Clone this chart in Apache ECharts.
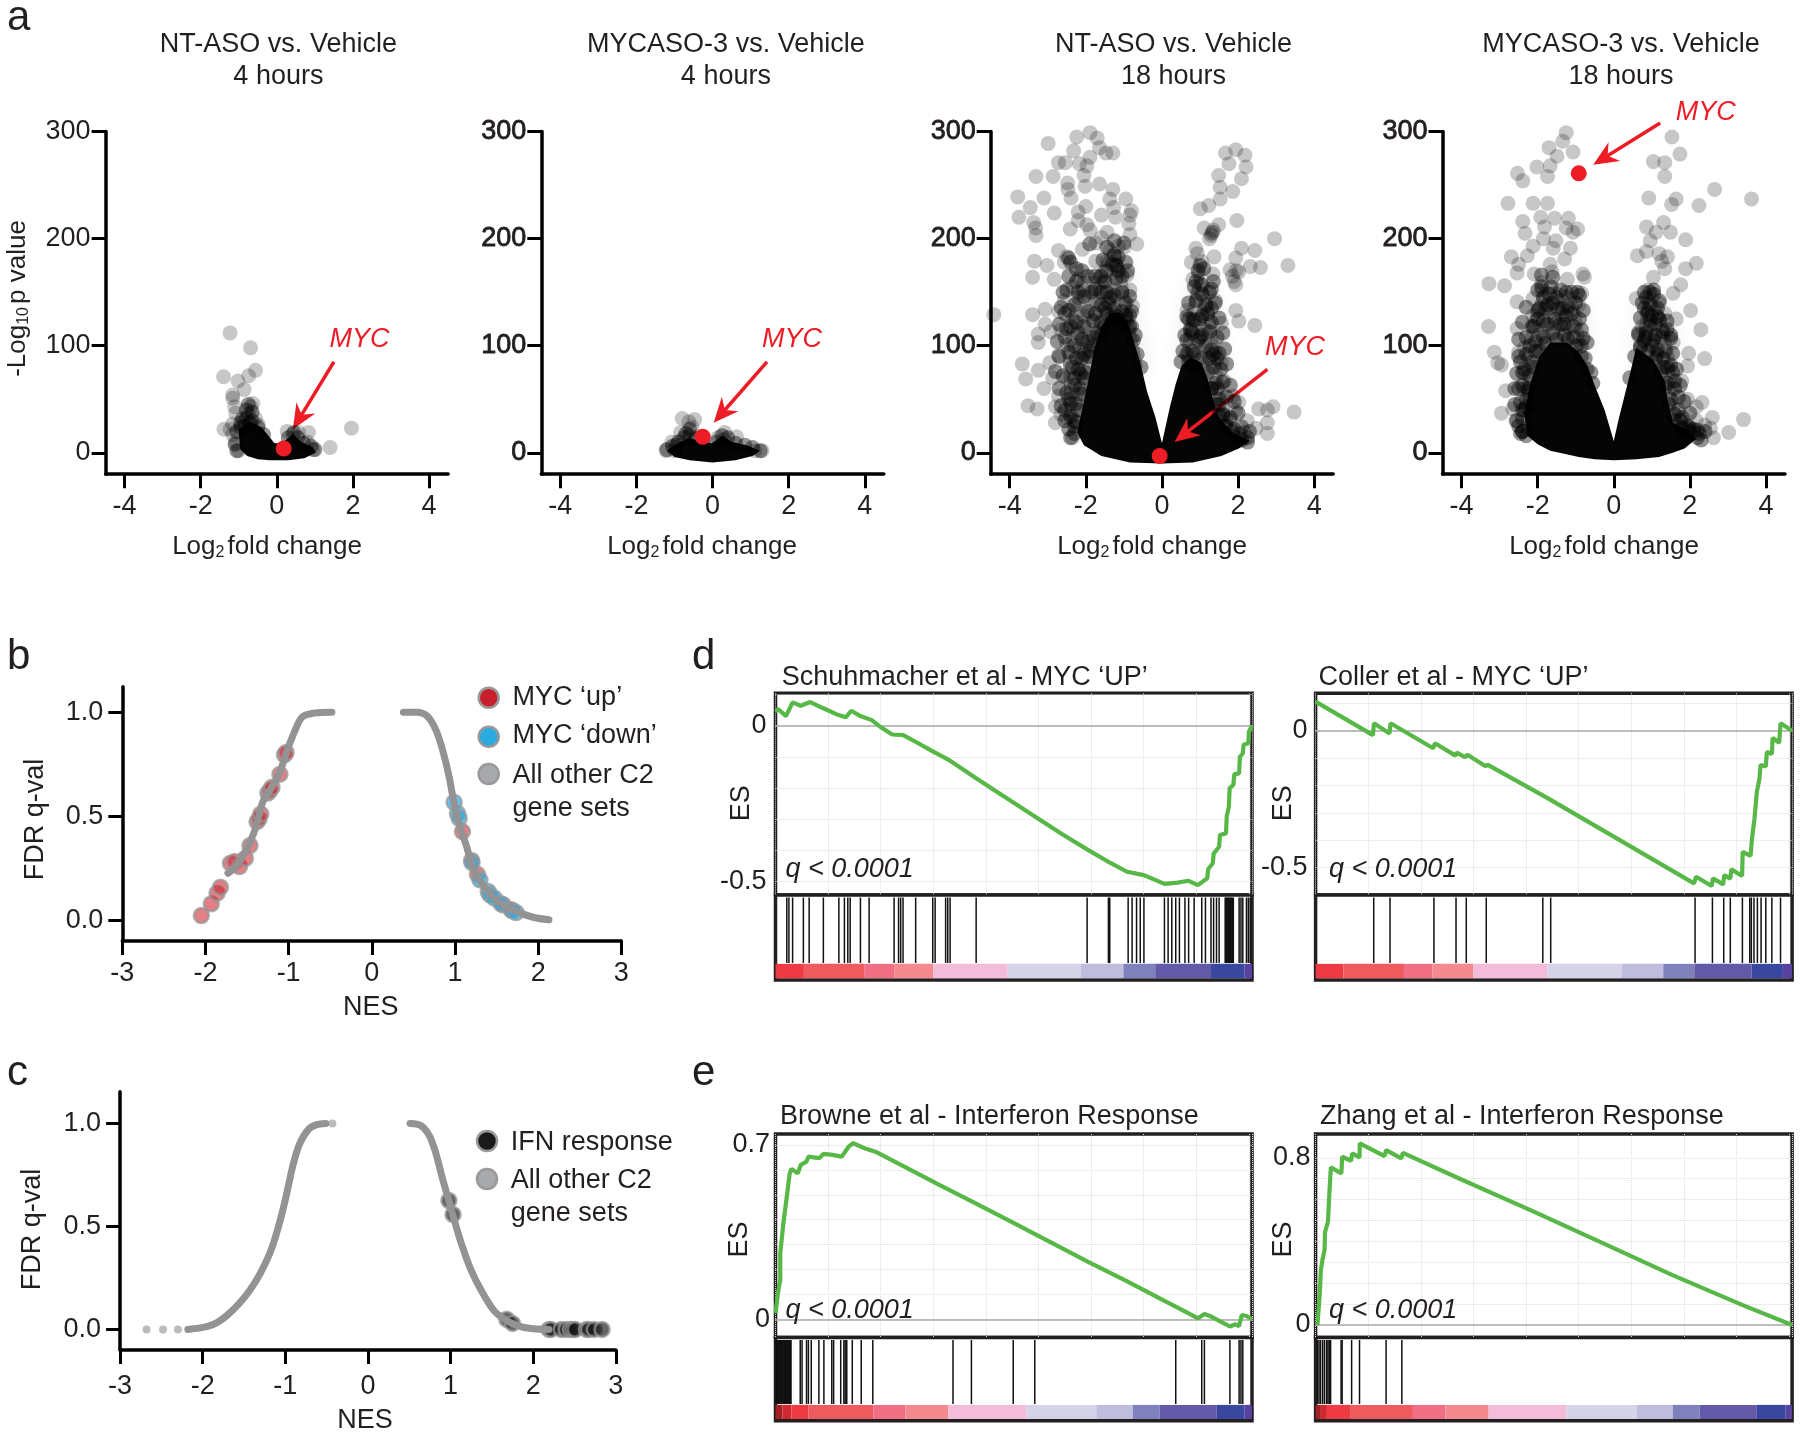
<!DOCTYPE html>
<html>
<head>
<meta charset="utf-8">
<title>Volcano, NES and GSEA panels</title>
<script src="https://cdn.jsdelivr.net/npm/echarts@6/dist/echarts.min.js"></script>
<style>
  html, body { margin: 0; padding: 0; background: #fff; }
  #main { width: 1800px; height: 1433px; }
</style>
</head>
<body>
<div id="main"></div>
<script>
// tick labels
const volcanoXTicks = [-4, -2, 0, 2, 4]
const volcanoYTicks = [0, 100, 200, 300]
const nesXTicks = [-3, -2, -1, 0, 1, 2, 3]
const fdrYTicks = [0, 0.5, 1]

// panel a: scattered genes as [log2fc, -log10p]
const a1Points = [[-1.23,112],[-.69,98],[-.56,77],[-.74,72],[-1.4,71],[-1.02,67],[-.86,59],[-1.16,54],[-1.16,51],[-.63,46],[-.68,43],[-1.11,43],[-1.08,37],[-.75,36],[-.56,32],[-1.16,27],[-1.39,22],[-1.23,22],[-.48,26],[.27,20],[.57,19],[.83,19],[1.96,23],[1.4,5],[.42,17],[.95,3],[.8,10],[-1.08,10],[-1,2],[-1.16,17]]
// overlapping dark clumps
const a1Dense = [[-.9,32],[-.8,40],[-.95,28],[-.7,28],[-1.05,20],[-.95,24],[-.8,32],[-.65,30],[-.5,24],[-.35,17],[-.75,45],[-.65,38],[-.85,25],[.3,14],[.45,19],[.55,14],[.7,9],[.9,6],[1,3],[-1.1,8],[-1.05,2]]
const a1Mass = [[-1.01,22],[-.71,29],[-.41,24],[-.06,9],[.12,9],[.42,17],[.65,10],[.95,5],[1.02,0],[.72,-5],[.3,-7],[-.18,-7],[-.5,-6],[-.78,-3],[-.96,3]]
const a2Points = [[-.8,32],[-.47,31],[-.62,29],[-.54,24],[-.84,19],[.32,19],[.63,15],[-1.22,2],[-.99,2],[1.3,2],[1.11,2],[-1.07,10],[.14,14],[.3,12]]
const a2Dense = [[-.6,22],[-.7,18],[-.95,7],[-1.2,3],[-1.05,6],[-.9,10],[-.75,14],[-.6,16],[-.45,13],[-.25,10],[.1,10],[.25,16],[.4,14],[.6,9],[.85,7],[1.05,5],[1.25,2]]
const a2Mass = [[-1.2,2],[-.92,9],[-.62,14],[-.29,10],[-.02,9],[.26,16],[.51,10],[.89,7],[1.25,2],[1.05,-3],[.6,-7],[0,-9],[-.6,-7],[-1,-4]]
const a3Points = [[-1.89,299],[-2.24,295],[-1.7,294],[-2.99,289],[-1.64,285],[-2.32,282],[-1.47,280],[-1.29,280],[-1.89,276],[-2.72,271],[-2.54,271],[-2.17,270],[-1.97,268],[-2.86,258],[-3.31,258],[-2.05,259],[-2.48,252],[-1.64,251],[-2.02,249],[-2.47,246],[-1.29,246],[-2.39,238],[-3.79,239],[-3.1,238],[-.95,237],[-1.37,237],[-3.46,229],[-2,230],[-1.27,229],[-.8,226],[-2.83,224],[-3.76,220],[-2.2,225],[-1.59,222],[-1.22,220],[-.84,222],[-3.37,215],[-2.2,217],[-1.97,213],[-.87,214],[-2.41,209],[-3.32,210],[-3.31,203],[-1.89,208],[-1.44,206],[-1.59,201],[-.84,204],[-1.74,196],[-.66,195],[-1.14,193],[-1.37,189],[-2.09,190],[-2.72,189],[-.99,192],[-2.5,183],[-2.57,178],[-3.35,179],[-3.02,175],[-1.44,179],[-1.74,179],[-1.22,176],[-.92,166],[-3.4,164],[-2.83,162],[-2.2,162],[-1.59,159],[-2.35,155],[-2.05,152],[-1.22,152],[-.84,152],[-4.42,129],[-3.07,134],[-3.4,129],[-2.57,142],[-2.72,132],[-2.2,145],[-1.74,142],[-.77,137],[-.92,125],[-3.07,120],[-3.25,111],[-2.92,113],[-3.25,103],[-2.65,115],[-2.35,125],[-2.05,128],[-2.5,101],[-2.72,91],[-2.17,98],[-3.67,83],[-3.58,69],[-3.25,77],[-2.95,84],[-2.87,70],[-3.1,60],[-3.52,44],[-3.28,41],[-2.72,53],[-2.5,70],[-2.42,84],[-2.8,43],[-2.8,28],[-2.65,36],[-2.35,57],[-2.35,14],[-2.5,33],
  [1.67,280],[1.94,283],[2.18,278],[1.76,270],[2.21,267],[1.49,259],[2.09,256],[1.53,248],[1.86,244],[1.53,237],[1.23,231],[1.01,228],[1.97,217],[1.49,213],[1.11,210],[1.34,206],[1.29,203],[2.96,200],[2.09,191],[2.44,189],[.89,191],[.93,186],[1.37,183],[1.94,182],[2.32,174],[2.59,173],[3.31,175],[.77,178],[1.04,179],[1.34,167],[.96,167],[1.79,171],[2.02,169],[1.94,157],[.81,162],[.93,149],[1.41,142],[1.11,135],[1.94,133],[.66,133],[2.02,123],[1.56,121],[2.44,119],[.81,125],[.74,115],[1.11,115],[1.41,94],[1.56,84],[1.64,67],[1.86,53],[2.02,47],[2.54,41],[2.92,43],[2.77,40],[3.47,38],[2.77,18],[2.77,28],[2.24,30],[1.79,31],[1.94,40],[2.17,19],[2.47,23],[1.85,165],[1.9,160],[1.95,170],[1.3,205],[1.35,208],[1.25,200]]
const a3Dense = [[-1.2,128],[-1.1,124],[-1.3,126],[-1,118],[-1.5,118],[-1.6,110],[-1.8,108],[-1.9,95],[-2.1,88],[-2.2,78],[-2.3,70],[-2.05,70],[-2.15,60],[-2.4,46],[-2.55,40],[-2.3,30],[-2.45,22],[-1.35,145],[-1.05,150],[-.95,140],[-.85,128],[-.8,118],[-.7,110],[-1.6,150],[-1.85,150],[-1.95,165],[-2.1,170],[-2.25,172],[-2.4,178],[-2.45,165],[-2.6,150],[-2.55,130],[-2.4,118],[-2.2,112],[-1.75,130],[-1.5,135],[-1.15,170],[-1.05,165],[-1.25,185],[-1.2,175],[-1.45,170],[-1.6,165],[-1.75,165],
  [-2.3,25],[-2.2,40],[-2.12,55],[-2,75],[-1.9,90],[-1.8,100],[-1.7,112],[-1.6,122],[-1.45,130],[-1.25,134],[-1.05,132],[-.95,128],[-.85,118],[-.75,105],[-.65,92],[-.55,80],
  [-1.9,195],[-1.45,192],[-1.25,198],[-1,196],[-2.45,182],[-1.55,180],[-1.3,176],[-1.15,183],[-.95,178],[-2.25,160],[-1.5,160],[-1.2,163],[-.9,170],[-2.5,152],[-2.2,150],[-2.05,146],[-1.75,153],[-1.45,150],[-1.25,147],[-.85,146],[-2.65,136],[-2.45,133],[-2.3,138],[-1.95,132],[-1.6,138],[-1.4,140],[-.8,132],[-2.7,120],[-2.5,116],[-2.25,122],[-2.05,118],[-1.8,123],[-2.75,104],[-2.55,108],[-2.3,100],[-2.1,106],[-1.95,104],[-2.7,90],[-2.45,94],[-2.25,88],[-2.05,92],[-2.8,76],[-2.6,72],[-2.35,80],[-2.15,74],[-2.7,60],[-2.5,56],[-2.3,63],[-2.65,44],[-2.45,50],[-2.25,46],[-2.55,30],[-2.4,34],[-2.25,28],[-2.4,14],[-2.3,18],
  [.7,85],[.8,95],[.65,105],[.75,115],[.7,125],[.95,105],[1.05,110],[1.15,100],[1.25,88],[1.35,92],[1.45,88],[.85,80],[1,125],[1.2,130],[1.3,135],[1.25,150],[1.35,160],[1.05,148],[.9,160],[1,175],[1.3,60],[1.45,60],[1.5,45],[1.6,35],[1.7,25],[1.9,15],[2.1,12],[2.25,10],
  [.5,85],[.65,92],[.85,92],[1.05,88],[1.2,75],[1.3,60],[1.4,45],[1.5,35],[1.65,25],[1.85,20],[2.05,18],[2.25,14],
  [.95,170],[1.1,172],[.85,155],[1.05,157],[1.3,153],[.7,140],[.9,142],[1.15,138],[1.4,140],[.65,127],[.85,124],[1.05,128],[1.3,122],[1.5,126],[.6,110],[.8,112],[1,108],[1.25,113],[1.45,108],[1.6,112],[.55,95],[1.3,96],[1.5,93],[1.65,97],[1.35,80],[1.55,78],[1.7,83],[1.4,65],[1.6,66],[1.8,63],[1.5,50],[1.7,52],[1.9,48],[1.6,36],[1.8,33],[2,37],[1.9,22],[2.1,24],[2.3,20]]
const a3Mass = [[0,9],[-.17,33],[-.39,57],[-.57,84],[-.77,108],[-.92,123],[-1.14,131],[-1.37,130],[-1.59,118],[-1.77,98],[-1.92,70],[-2.08,43],[-2.23,19],[-2.05,7],[-1.59,-3],[-.84,-9],[0,-10],[.81,-9],[1.56,-3],[2.02,4],[2.32,11],[1.86,19],[1.49,33],[1.34,50],[1.19,70],[1.04,84],[.74,89],[.51,81],[.36,64],[.21,43]]
// grey veil behind the clumps
const a3Haze = [[-2.55,30],[-2.6,90],[-2.45,130],[-2.2,165],[-1.8,165],[-1.4,190],[-1.1,190],[-.9,160],[-.75,125],[-.5,80],[-1.5,40]]
const a3HazeRight = [[.5,90],[.65,130],[.85,165],[1.1,165],[1.35,140],[1.5,100],[1.65,60],[1.9,25],[1.3,30]]
const a4Points = [[-1.25,299],[-1.34,291],[-1.7,285],[-1.07,281],[-1.49,277],[-2.02,267],[-1.67,268],[-2.53,261],[-1.74,258],[-2.39,254],[-2.78,233],[-2.12,233],[-1.74,233],[-1.92,220],[-1.55,219],[-1.19,219],[-2.39,216],[-1.25,210],[-.95,209],[-1.82,211],[-2.33,205],[-1.07,206],[-1.85,200],[-1.52,198],[-2.12,193],[-1.59,191],[-1.14,191],[-2.69,183],[-2.27,184],[-2.5,176],[-1.29,181],[-1.67,176],[-1.62,169],[-2.54,168],[-2.09,167],[-.81,167],[-.77,164],[-1.22,162],[-1.89,159],[-3.28,158],[-2.87,156],[-1.89,152],[-.84,149],[-2.12,144],[-2.54,141],[-1.37,142],[-.92,138],[-1.67,135],[-1.22,132],[-2.12,128],[-3.29,118],[-2.54,116],[-1.52,121],[-1.22,118],[-1.97,110],[-2.35,98],[-2.5,94],[-3.14,94],[-2.95,82],[-3.05,84],[-2.35,74],[-2.84,58],[-2.35,60],[-2.65,41],[-2.95,37],[-2.57,30],[-2.27,24],
  [1.53,295],[1.74,279],[1.04,272],[1.34,271],[1.34,258],[2.65,246],[3.62,237],[.92,238],[1.64,237],[1.52,232],[2.24,231],[.86,211],[1.31,215],[1.49,206],[1.11,206],[1.89,199],[.96,198],[.86,188],[.62,184],[1.19,186],[1.41,183],[2.17,177],[1.89,172],[1.26,179],[1.34,172],[1.04,164],[1.76,157],[.89,152],[1.56,149],[.59,144],[2.02,133],[1.19,140],[1.34,130],[2.29,115],[1.64,125],[.89,132],[.74,118],[1.56,103],[1.97,93],[2.39,88],[1.94,81],[1.79,67],[1.94,50],[2.32,47],[2.17,43],[2.59,33],[3.41,31],[3.02,19],[2.62,14],[2.39,26],[2.17,30],[2.09,19],[2.54,23]]
const a4Dense = [[-1.9,155],[-1.85,145],[-1.8,135],[-1.95,135],[-2,125],[-2.1,118],[-1.75,120],[-1.55,125],[-1.4,120],[-1.25,128],[-1.1,130],[-1,140],[-.95,150],[-.9,125],[-.85,115],[-1.1,150],[-1.25,150],[-1.35,135],[-1.5,145],[-1.6,140],[-1.65,155],[-2.2,100],[-2.3,108],[-2.15,85],[-2.05,95],[-2.4,75],[-2.45,85],[-2.5,60],[-2.3,50],[-2.4,40],[-2.5,25],[-2.4,20],[-1.6,112],[-1.3,110],[-1.05,108],[-.85,100],[-.75,88],[-.6,75],
  [-2.4,20],[-2.35,40],[-2.25,60],[-2.1,80],[-1.95,95],[-1.8,102],[-1.5,106],[-1.2,106],[-1,100],[-.85,90],[-.7,78],[-.55,65],
  [-1.9,166],[-1.6,164],[-2,152],[-1.7,148],[-1.4,152],[-.9,147],[-2.3,136],[-2,133],[-1.75,138],[-1.45,134],[-1.2,137],[-.8,133],[-2.4,122],[-2.15,118],[-1.85,123],[-1.3,120],[-1.05,118],[-2.5,106],[-2.05,104],[-1.85,108],[-.8,107],[-.7,103],[-2.5,90],[-2.3,92],[-2.55,74],[-2.35,78],[-2.2,72],[-2.6,60],[-2.4,63],[-2.25,58],[-2.6,45],[-2.45,47],[-2.3,43],[-2.55,30],[-2.4,32],[-2.45,18],[-2.3,16],
  [.85,145],[.95,150],[1.05,148],[.8,135],[.9,130],[1,128],[1.15,135],[1.2,125],[1.1,120],[.95,118],[.85,112],[.8,105],[.7,100],[1.05,105],[1.25,108],[1.4,115],[1.5,110],[1.15,92],[1.3,88],[1.4,80],[1.55,75],[1.6,60],[1.7,40],[1.75,30],[1.95,25],[2.1,22],[2.25,18],[2.3,12],[1.9,15],[1,100],[.65,110],
  [.42,70],[.55,90],[.7,98],[.9,95],[1.1,88],[1.25,75],[1.38,62],[1.45,45],[1.6,30],[1.8,24],[2,20],[2.2,14],
  [.8,150],[1.05,152],[.75,140],[.95,138],[1.2,142],[.7,126],[.95,124],[1.15,127],[1.4,123],[.65,112],[.85,108],[1.1,110],[1.3,113],[1.5,107],[1.15,96],[1.35,95],[1.55,93],[1.3,80],[1.5,82],[1.65,78],[1.4,65],[1.6,67],[1.75,63],[1.5,50],[1.7,52],[1.85,48],[1.6,36],[1.8,33],[2,37],[1.8,22],[2,23],[2.2,21],[2.4,20]]
const a4Mass = [[0,11],[-.24,40],[-.47,60],[-.69,81],[-.92,94],[-1.22,103],[-1.67,103],[-1.97,89],[-2.2,64],[-2.35,36],[-2.27,16],[-2,8],[-1.67,2],[-1.3,-1],[-.92,-4],[-.5,-6],[0,-7],[.6,-6],[1.19,-4],[1.55,0],[1.86,4],[2.17,13],[1.94,21],[1.56,28],[1.41,50],[1.34,67],[1.04,87],[.59,98],[.36,64],[.14,33]]
const a4Haze = [[-2.4,30],[-2.4,100],[-2.15,135],[-1.9,155],[-1.5,155],[-1.05,150],[-.85,130],[-.75,100],[-1,80],[-1.8,40]]
const a4HazeRight = [[.6,95],[.75,145],[1.1,145],[1.4,125],[1.6,90],[1.65,45],[2.2,20],[1.4,20]]
// MYC gene and its arrow [fromX, fromY, toX, toY]
const a1Myc = [.18, 4]
const a2Myc = [-.26, 15]
const a3Myc = [-.06, -3]
const a4Myc = [-.92, 261]
const a1Arrow = [1.5, 85, .42, 22]
const a2Arrow = [1.43, 85, .03, 28]
const a3Arrow = [2.77, 78, .33, 10]
const a4Arrow = [1.22, 308, -.54, 269]

// panel b: [NES, FDR q-val]
const bLeftCurve = [[-1.73,.226],[-1.63,.258],[-1.5,.346],[-1.42,.418],[-1.37,.482],[-1.31,.57],[-1.21,.635],[-1.11,.707],[-1.03,.803],[-.92,.915],[-.84,.976],[-.71,.995],[-.48,1]]
const bRightCurve = [[.38,1],[.54,1],[.67,.98],[.77,.915],[.85,.82],[.93,.69],[.99,.56],[1.06,.45],[1.14,.354],[1.21,.258],[1.32,.178],[1.45,.114],[1.61,.066],[1.79,.034],[1.95,.013],[2.13,.002]]
const bMycUp = [[-2.05,.022],[-1.93,.079],[-1.86,.13],[-1.82,.159],[-1.7,.274],[-1.65,.282],[-1.59,.258],[-1.52,.298],[-1.465,.359],[-1.38,.474],[-1.355,.487],[-1.335,.511],[-1.25,.611],[-1.225,.623],[-1.2,.639],[-1.105,.702],[-1.05,.795],[-1.03,.806],[1.09,.426],[1.2,.287],[1.27,.221],[1.58,.074],[1.68,.05]]
const bMycDown = [[.99,.567],[1.03,.514],[1.05,.49],[1.205,.277],[1.3,.194],[1.4,.138],[1.42,.122],[1.475,.106],[1.555,.079],[1.685,.046],[1.735,.037]]

// panel c
const cLeftCurve = [[-2.18,0],[-2.05,.006],[-1.93,.016],[-1.83,.032],[-1.7,.07],[-1.56,.125],[-1.43,.19],[-1.3,.275],[-1.17,.388],[-1.07,.518],[-.99,.647],[-.91,.793],[-.83,.898],[-.72,.971],[-.62,.994],[-.51,1]]
const cRightCurve = [[.51,1],[.64,.99],[.745,.939],[.82,.858],[.9,.736],[.98,.623],[1.06,.51],[1.14,.405],[1.244,.291],[1.375,.186],[1.53,.089],[1.69,.04],[1.85,.013],[2,.003],[2.19,0]]
const cStray = [[-2.68,0],[-2.48,0],[-2.3,0],[-.43,1]]
const cIfn = [[.98,.626],[1.03,.558],[1.68,.049],[1.75,.029],[2.19,0],[2.215,0],[2.34,0],[2.4,0],[2.45,0],[2.48,0],[2.51,0],[2.645,0],[2.67,0],[2.74,0],[2.835,0]]

// GSEA running scores: [rank in thousands, ES]
const d1Curve = [[0,.045],[.11,.053],[.4,.031],[.65,.075],[.96,.064],[1.32,.076],[1.82,.056],[2.31,.037],[2.67,.027],[2.88,.048],[3.23,.031],[3.66,.018],[4.01,-.005],[4.44,-.028],[4.86,-.03],[5.36,-.053],[5.93,-.08],[6.64,-.112],[7.63,-.168],[8.62,-.223],[9.76,-.285],[10.89,-.347],[11.88,-.398],[12.59,-.433],[13.37,-.468],[14.01,-.479],[14.79,-.507],[15.29,-.503],[15.71,-.497],[16.06,-.511],[16.42,-.489],[16.45,-.46],[16.63,-.441],[16.66,-.41],[16.87,-.388],[16.9,-.35],[17.13,-.345],[17.16,-.29],[17.24,-.26],[17.27,-.2],[17.41,-.19],[17.45,-.155],[17.63,-.153],[17.66,-.1],[17.77,-.089],[17.8,-.06],[17.98,-.057],[18,-.02],[18.12,0]]
const d2Curve = [[0,.106],[2.18,-.016],[2.22,.027],[2.81,-.01],[2.85,.027],[4.47,-.064],[4.54,-.046],[5.32,-.091],[5.37,-.08],[5.68,-.097],[5.77,-.088],[6.45,-.129],[6.55,-.125],[8.84,-.247],[14.39,-.557],[14.47,-.533],[15.06,-.567],[15.11,-.539],[15.5,-.561],[15.54,-.527],[15.77,-.54],[15.81,-.506],[16.22,-.53],[16.24,-.442],[16.54,-.457],[16.59,-.399],[16.69,-.32],[16.78,-.223],[16.88,-.174],[16.92,-.125],[17.12,-.131],[17.16,-.077],[17.35,-.085],[17.38,-.026],[17.63,-.044],[17.68,.027],[18.12,0]]
const e1Curve = [[0,.024],[.09,.104],[.18,.158],[.18,.265],[.3,.386],[.43,.493],[.54,.586],[.61,.604],[.85,.586],[.96,.62],[1.18,.633],[1.25,.653],[1.67,.647],[1.82,.664],[2.17,.66],[2.52,.653],[2.78,.693],[2.95,.707],[3.38,.687],[3.8,.673],[5.08,.603],[6.21,.541],[7.63,.464],[9.05,.387],[10.47,.309],[11.89,.231],[13.3,.156],[14.72,.078],[15.29,.047],[16.07,.004],[16.31,.021],[16.57,.011],[17.28,-.029],[17.49,-.02],[17.63,-.027],[17.73,.017],[17.91,.013],[18.12,0]]
const e2Curve = [[.07,0],[.16,.151],[.2,.263],[.26,.311],[.34,.359],[.36,.446],[.47,.494],[.52,.622],[.58,.754],[.98,.725],[1.01,.805],[1.35,.786],[1.39,.821],[1.67,.802],[1.68,.869],[2.62,.808],[2.68,.837],[3.26,.797],[3.32,.824],[5.48,.7],[8.17,.55],[10.86,.395],[13.55,.24],[16.24,.095],[18.12,0]]

// gene hits, rank in thousands
const d1Hits = [.43,.51,.65,1.06,1.28,1.82,2.41,2.62,2.75,2.84,3.23,3.56,4.51,4.68,4.76,4.85,5.33,5.98,6.07,6.47,6.55,6.64,7.63,11.85,12.66,12.71,13.41,13.56,13.73,13.87,14.01,14.79,14.93,15.07,15.22,15.36,15.57,15.71,15.92,16.21,16.35,16.56,16.66,16.77,16.87,17.1,17.13,17.16,17.2,17.23,17.26,17.3,17.33,17.37,17.41,17.63,17.7,17.77,17.91,17.98,18.05]
const d2Hits = [2.21,2.83,4.5,5.34,5.73,6.49,8.64,8.94,14.43,15.09,15.52,15.77,16.23,16.51,16.57,16.67,16.8,16.94,17.12,17.35,17.68]
const e1Hits = [.02,.05,.08,.11,.14,.17,.2,.23,.26,.29,.32,.35,.38,.41,.44,.47,.5,.53,.56,.59,.94,1.01,1.18,1.25,1.36,1.65,1.84,2.14,2.21,2.48,2.6,2.65,2.71,2.92,3.26,3.7,6.75,7.45,9.04,9.86,15.22,16.21,16.31,17.28,17.63,17.7,17.77]
const e2Hits = [.07,.13,.19,.27,.34,.42,.47,.52,.57,.97,1.01,1.37,1.67,2.68,3.28]

// colour strip band edges, rank in thousands
const d1Bands = [0,1.08,3.37,4.51,6,8.83,11.6,13.23,14.44,16.56,17.84,18.12]
const d2Bands = [0,1.06,3.36,4.44,5.99,8.82,11.64,13.22,14.4,16.58,17.77,18.12]
const e1Bands = [0,.26,.61,1.25,3.73,4.94,6.57,9.55,12.2,13.59,14.61,16.78,17.84,18.12]
const e2Bands = [0,.2,.43,1.31,3.7,4.94,6.58,9.54,12.21,13.58,14.6,16.78,17.86,18.12]
const bandColors = ['#ee3a43','#ef5a5e','#f06f85','#f48a8f','#f3bcd8','#d5d3e8','#c0bcdd','#7f81bd','#6259a7','#3a479f','#5742a0']
const darkBandColors = ['#a32126','#d02a30']

const esGridValues = [.1, 0, -.1, -.2, -.3, -.4, -.5]
const browneGridValues = [0, .1, .2, .3, .4, .5, .6, .7]
const zhangGridValues = [0, .1, .2, .3, .4, .5, .6, .7, .8]

const FONT = '"Liberation Sans", Arial, sans-serif'
const INK = '#231f20'
const RED = '#ee1c25'
const GREEN = '#58b847'

const grid = []
const xAxis = []
const yAxis = []
const series = []
const graphic = []

function text(x, y, str, extra) {
  graphic.push({
    type: 'text',
    x,
    y: y + 1.5,
    rotation: extra && extra.rotation || 0,
    z: 50,
    style: Object.assign({
      text: str,
      fill: INK,
      fontSize: 27,
      fontFamily: FONT,
      align: 'left',
      verticalAlign: 'middle'
    }, extra && extra.style)
  })
}

function subText(x, y, str, rotation) {
  text(x, y, str, {
    rotation,
    style: {
      align: 'center',
      rich: {
        a: { fontSize: 26, fontFamily: FONT, fill: INK, lineHeight: 30 },
        s: { fontSize: 16, fontFamily: FONT, fill: INK, lineHeight: 30, padding: [12, 3, 0, 0] }
      }
    }
  })
}

function addAxes(idx, x, y) {
  xAxis.push(Object.assign({ gridIndex: idx, type: 'value' }, x))
  yAxis.push(Object.assign({ gridIndex: idx, type: 'value' }, y))
  return idx
}

function blackAxis(ticks, labelMargin, bold, digits) {
  return {
    splitLine: { show: false },
    axisLine: { show: true, onZero: false, lineStyle: { color: '#000', width: 3.5 } },
    axisTick: { show: true, length: 14, customValues: ticks, lineStyle: { color: '#000', width: 3 } },
    axisLabel: {
      show: true,
      customValues: ticks,
      margin: labelMargin,
      fontSize: 27,
      fontFamily: FONT,
      color: INK,
      textBorderColor: bold ? INK : 'transparent',
      textBorderWidth: bold ? 0.8 : 0,
      formatter: digits ? (v) => v.toFixed(digits) : (v) => String(v)
    }
  }
}

function arrowSeries(idx, arrow) {
  return {
    type: 'custom',
    xAxisIndex: idx,
    yAxisIndex: idx,
    silent: true,
    clip: false,
    data: [arrow],
    renderItem: (params, api) => {
      const from = api.coord([api.value(0), api.value(1)])
      const to = api.coord([api.value(2), api.value(3)])
      const len = Math.hypot(to[0] - from[0], to[1] - from[1])
      const ux = (to[0] - from[0]) / len
      const uy = (to[1] - from[1]) / len
      const at = (back, side) => [to[0] - ux * back - uy * side, to[1] - uy * back + ux * side]
      return {
        type: 'group',
        children: [{
          type: 'line',
          shape: { x1: from[0], y1: from[1], x2: at(16, 0)[0], y2: at(16, 0)[1] },
          style: { stroke: RED, lineWidth: 3.5 }
        }, {
          type: 'polygon',
          shape: { points: [at(0, 0), at(25, 11), at(17, 0), at(25, -11)] },
          style: { fill: RED }
        }]
      }
    }
  }
}

function outlineSeries(idx, outline, style) {
  return {
    type: 'custom',
    xAxisIndex: idx,
    yAxisIndex: idx,
    silent: true,
    data: [[0, 0]],
    renderItem: (params, api) => ({
      type: 'polygon',
      shape: { points: outline.map((p) => api.coord(p)) },
      style
    })
  }
}

function dotSeries(idx, data, opacity) {
  return {
    type: 'scatter',
    xAxisIndex: idx,
    yAxisIndex: idx,
    clip: false,
    symbolSize: 15,
    itemStyle: { color: '#000', opacity },
    data
  }
}

function addVolcano(idx, left, points, dense, mass, hazes, myc, arrow, bold) {
  grid.push({ left, top: 131.6, width: 342.5, height: 342.6 })
  addAxes(idx,
    Object.assign({ min: -4.5, max: 4.5 }, blackAxis(volcanoXTicks, 19)),
    Object.assign({ min: -20, max: 300 }, blackAxis(volcanoYTicks, 15, bold)))
  hazes.forEach((h) => {
    series.push(outlineSeries(idx, h, { fill: 'rgba(0,0,0,0.28)', shadowBlur: 22, shadowColor: 'rgba(0,0,0,0.4)' }))
  })
  series.push(dotSeries(idx, points, 0.22), dotSeries(idx, dense, 0.42), outlineSeries(idx, mass, { fill: '#050505' }), {
    type: 'scatter',
    xAxisIndex: idx,
    yAxisIndex: idx,
    clip: false,
    symbolSize: 16,
    itemStyle: { color: RED, opacity: 1 },
    data: [myc]
  }, arrowSeries(idx, arrow))
}

function addNes(idx, box, curves, dots) {
  grid.push(box)
  addAxes(idx,
    Object.assign({ min: -3, max: 3 }, blackAxis(nesXTicks, box.xMargin)),
    Object.assign({ min: -0.1, max: box.yMax }, blackAxis(fdrYTicks, 19, false, 1)))
  curves.forEach((c) => {
    series.push({
      type: 'line',
      xAxisIndex: idx,
      yAxisIndex: idx,
      showSymbol: false,
      smooth: 0.3,
      data: c,
      lineStyle: { color: '#939393', width: 7, cap: 'round', join: 'round' }
    })
  })
  dots.forEach((d) => {
    series.push({
      type: 'scatter',
      xAxisIndex: idx,
      yAxisIndex: idx,
      clip: false,
      symbolSize: d.size,
      data: d.data,
      itemStyle: { color: d.fill, borderColor: d.stroke, borderWidth: d.stroke ? 2.5 : 0 }
    })
  })
}

function addGsea(idx, box, curve, hits, bands, colors, zeroMax, gridValues, labels, margin) {
  grid.push({
    left: box.left,
    top: box.top,
    width: box.width,
    height: box.mid - box.top,
    show: true,
    borderWidth: 3.5,
    borderColor: INK,
    backgroundColor: '#fff'
  })
  addAxes(idx, {
    min: 0,
    max: 18.12,
    interval: 2,
    axisLine: { show: true, onZero: true, lineStyle: { color: '#aaa', width: 1.5 } },
    axisTick: { show: false },
    axisLabel: { show: false },
    splitLine: { show: true, lineStyle: { color: '#dcdcdc', width: 1, type: 'dotted' } }
  }, {
    min: zeroMax[0],
    max: zeroMax[1],
    axisLine: { show: false },
    axisTick: { show: false, customValues: gridValues },
    splitLine: { show: true, lineStyle: { color: '#dcdcdc', width: 1, type: 'dotted' } },
    axisLabel: {
      show: true,
      customValues: labels,
      margin,
      fontSize: 27,
      fontFamily: FONT,
      color: INK,
      formatter: (v) => String(v)
    }
  })
  series.push({
    type: 'line',
    xAxisIndex: idx,
    yAxisIndex: idx,
    showSymbol: false,
    data: curve,
    lineStyle: { color: GREEN, width: 4.2 },
    z: 5
  })

  // hits and colour strip share the lower box
  const low = idx + 1
  grid.push({
    left: box.left,
    top: box.mid,
    width: box.width,
    height: box.bottom - box.mid,
    show: true,
    borderWidth: 3.5,
    borderColor: INK,
    backgroundColor: '#fff'
  })
  const hidden = { axisLine: { show: false }, axisTick: { show: false }, axisLabel: { show: false }, splitLine: { show: false } }
  addAxes(low,
    Object.assign({ min: 0, max: 18.12 }, hidden),
    Object.assign({ min: 0, max: 1 }, hidden))
  series.push({
    type: 'custom',
    xAxisIndex: low,
    yAxisIndex: low,
    silent: true,
    data: hits.map((v) => [v]),
    renderItem: (params, api) => {
      const top = api.coord([api.value(0), 0.97])
      const bottom = api.coord([api.value(0), 0.2])
      return {
        type: 'line',
        shape: { x1: top[0], y1: top[1], x2: bottom[0], y2: bottom[1] },
        style: { stroke: '#111', lineWidth: 1.5 }
      }
    }
  }, {
    type: 'custom',
    xAxisIndex: low,
    yAxisIndex: low,
    silent: true,
    data: bands.slice(0, -1).map((b, i) => [b, bands[i + 1]]),
    renderItem: (params, api) => {
      const a = api.coord([api.value(0), 0.19])
      const b = api.coord([api.value(1), 0.02])
      return {
        type: 'rect',
        shape: { x: a[0], y: a[1], width: b[0] - a[0], height: b[1] - a[1] },
        style: { fill: colors[params.dataIndex] }
      }
    }
  })
}

// panel a
addVolcano(0, 105.6, a1Points, a1Dense, a1Mass, [], a1Myc, a1Arrow, false)
addVolcano(1, 541.3, a2Points, a2Dense, a2Mass, [], a2Myc, a2Arrow, true)
addVolcano(2, 990.7, a3Points, a3Dense, a3Mass, [a3Haze, a3HazeRight], a3Myc, a3Arrow, true)
addVolcano(3, 1442.5, a4Points, a4Dense, a4Mass, [a4Haze, a4HazeRight], a4Myc, a4Arrow, true)

// panels b and c
addNes(4, { left: 122.3, top: 686.7, width: 499, height: 254.3, yMax: 1.1226, xMargin: 19 },
  [bLeftCurve, bRightCurve],
  [
    { size: 15, fill: 'rgba(205,35,45,0.72)', stroke: 'rgba(150,150,150,0.9)', data: bMycUp },
    { size: 15, fill: 'rgba(41,171,226,0.9)', stroke: 'rgba(150,150,150,0.9)', data: bMycDown }
  ])
addNes(5, { left: 120.1, top: 1091.7, width: 495.7, height: 258.3, yMax: 1.154, xMargin: 23 },
  [cLeftCurve, cRightCurve],
  [
    { size: 8, fill: '#aaa', data: cStray },
    { size: 15, fill: 'rgba(20,20,20,0.82)', stroke: 'rgba(150,150,150,0.9)', data: cIfn }
  ])

// panels d and e
const colLeft = { left: 775.5, width: 476.5 }
const colRight = { left: 1315.6, width: 476.5 }
const rowD = { top: 693.3, mid: 895, bottom: 980 }
const rowE = { top: 1134, mid: 1337.5, bottom: 1420.7 }
const esLabelsD = [0, -0.5]
addGsea(6, Object.assign({}, colLeft, rowD), d1Curve, d1Hits, d1Bands, bandColors, [-.5426, .104], esGridValues, esLabelsD, 9)
addGsea(8, Object.assign({}, colRight, rowD), d2Curve, d2Hits, d2Bands, bandColors, [-.5996, .1365], esGridValues, esLabelsD, 8)
addGsea(10, Object.assign({}, colLeft, rowE), e1Curve, e1Hits, e1Bands, darkBandColors.concat(bandColors), [-.0731, .744], browneGridValues, [0, 0.7], 5.5)
addGsea(12, Object.assign({}, colRight, rowE), e2Curve, e2Hits, e2Bands, darkBandColors.concat(bandColors), [-.0598, .914], zhangGridValues, [0, 0.8], 5)

// panel letters
const letter = { style: { fontSize: 42 } }
text(7, 17, 'a', letter)
text(7, 656, 'b', letter)
text(7, 1072, 'c', letter)
text(692, 656, 'd', letter)
text(692, 1072, 'e', letter)

// titles of panel a
const center = { style: { align: 'center' } }
text(278.4, 43, 'NT-ASO vs. Vehicle', center)
text(278.4, 75.5, '4 hours', center)
text(725.9, 43, 'MYCASO-3 vs. Vehicle', center)
text(725.9, 75.5, '4 hours', center)
text(1173.5, 43, 'NT-ASO vs. Vehicle', center)
text(1173.5, 75.5, '18 hours', center)
text(1621, 43, 'MYCASO-3 vs. Vehicle', center)
text(1621, 75.5, '18 hours', center)

const logX = '{a|Log}{s|2}{a|fold change}'
subText(267, 545, logX)
subText(702, 545, logX)
subText(1152, 545, logX)
subText(1604, 545, logX)
subText(18, 297, '{a|-Log}{s|10}{a|p value}', Math.PI / 2)

const myc = { style: { align: 'center', fill: RED, fontStyle: 'italic' } }
text(359.6, 337.5, 'MYC', myc)
text(792, 337.5, 'MYC', myc)
text(1295, 345.5, 'MYC', myc)
text(1705.7, 111, 'MYC', myc)

// panels b, c labels and keys
const rotated = { rotation: Math.PI / 2, style: { align: 'center' } }
text(36, 818, 'FDR q-val', rotated)
text(33, 1228, 'FDR q-val', rotated)
text(370.8, 1006, 'NES', center)
text(365, 1419, 'NES', center)

function key(x, y, fill) {
  graphic.push({
    type: 'circle',
    z: 50,
    shape: { cx: x, cy: y, r: 10 },
    style: { fill, stroke: '#999', lineWidth: 2.5 }
  })
}
key(488.7, 697.7, '#c8202b')
key(488.7, 736.7, '#29abe2')
key(488.7, 774, '#a7a9ac')
text(512.6, 695.7, 'MYC ‘up’')
text(512.6, 734.3, 'MYC ‘down’')
text(512.6, 774, 'All other C2')
text(512.6, 806.7, 'gene sets')
key(487, 1141, '#1a1a1a')
key(487, 1179, '#a7a9ac')
text(510.8, 1141, 'IFN response')
text(510.8, 1179, 'All other C2')
text(510.8, 1212, 'gene sets')

// GSEA labels
text(781.7, 675.7, 'Schuhmacher et al - MYC ‘UP’')
text(1318.4, 675.7, 'Coller et al - MYC ‘UP’')
text(780, 1115, 'Browne et al - Interferon Response')
text(1320, 1115, 'Zhang et al - Interferon Response')
text(741.8, 801.7, 'ES', rotated)
text(1284, 801.7, 'ES', rotated)
text(740, 1238, 'ES', rotated)
text(1284, 1238, 'ES', rotated)
const italic = { style: { fontStyle: 'italic' } }
text(785.4, 868, 'q < 0.0001', italic)
text(1329, 868, 'q < 0.0001', italic)
text(785.4, 1309, 'q < 0.0001', italic)
text(1329, 1309, 'q < 0.0001', italic)

const chart = echarts.init(document.getElementById('main'), null, { renderer: 'canvas' })
chart.setOption({
  animation: false,
  backgroundColor: '#fff',
  tooltip: { show: false },
  grid,
  xAxis,
  yAxis,
  series,
  graphic
})
</script>
</body>
</html>
